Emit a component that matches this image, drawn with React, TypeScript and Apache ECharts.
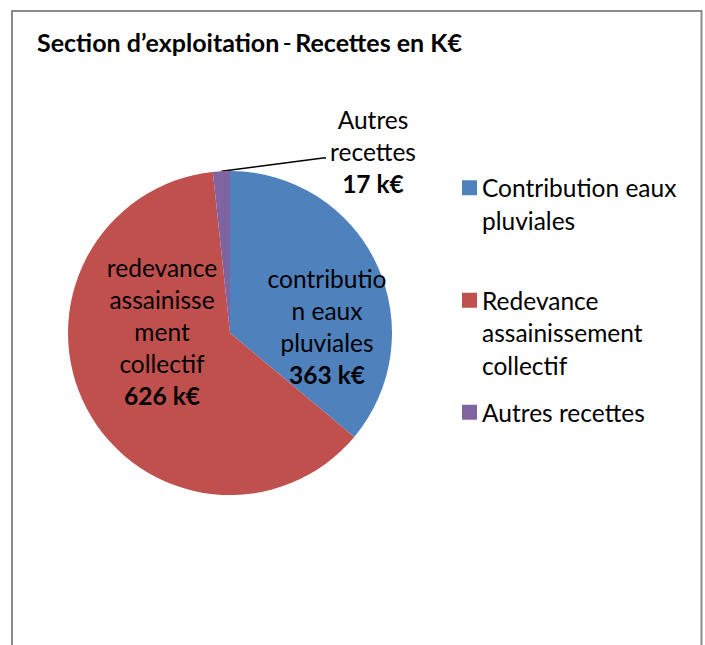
import React, { useEffect, useRef } from "react";
import * as echarts from "echarts";

const categories = ["Contribution eaux pluviales", "Redevance assainissement collectif", "Autres recettes"];
const legendNames = ["Contribution eaux\npluviales", "Redevance\nassainissement\ncollectif", "Autres recettes"];
const sliceLabels = ["contributio\nn eaux\npluviales", "redevance\nassainisse\nment\ncollectif", "Autres\nrecettes"];
const values = [363, 626, 17];
const colors = ["#4F81BD", "#C0504D", "#8064A2"];

const FONT = "Lato, 'Open Sans', sans-serif";
const FS = 24.5;

export default function App() {
  const ref = useRef<HTMLDivElement>(null);
  useEffect(() => {
    document.body.style.margin = "0";
    const chart = echarts.init(ref.current!, null, { renderer: "svg" });
    const cx = 230, cy = 333, r = 162;
    const total = values.reduce((a, b) => a + b, 0);
    const labelPos = [
      { x: 327, y: 326 },
      { x: 162, y: 331 },
      { x: 373, y: 151 },
    ];
    const legendTops = [139, 219, 396];
    const LH = 32.5;
    chart.setOption({
      animation: false,
      backgroundColor: "#ffffff",
      graphic: [
        {
          type: "rect",
          shape: { x: 12, y: 11, width: 689.5, height: 700 },
          style: { fill: "none", stroke: "#8c8c8c", lineWidth: 2 },
          z: 0,
        },
        {
          type: "text",
          left: 37,
          top: 29,
          style: {
            text: "{b|Section d’exploitation} {n|-} {b|Recettes en K€}",
            rich: {
              b: { fontFamily: FONT, fontSize: 25, fontWeight: "bold", fill: "#000" },
              n: { fontFamily: FONT, fontSize: 25, fill: "#000" },
            },
          },
        },
      ],
      legend: categories.map((c, i) => ({
        orient: "vertical",
        left: 462,
        top: legendTops[i],
        padding: 0,
        itemWidth: 15,
        itemHeight: 15,
        icon: "rect",
        data: [c],
        formatter: (name: string) => {
          const txt = legendNames[categories.indexOf(name)];
          const n = txt.split("\n").length;
          return "\n".repeat(n - 1) + txt;
        },
        textStyle: { fontFamily: FONT, fontSize: FS, color: "#000", lineHeight: LH },
      })),
      series: [
        {
          type: "pie",
          center: [cx, cy],
          radius: r,
          startAngle: 90,
          clockwise: true,
          color: colors,
          itemStyle: { borderWidth: 0 },
          label: {
            show: true,
            position: "inside",
            fontFamily: FONT,
            fontSize: FS,
            color: "#000",
            lineHeight: 32,
            align: "center",
            formatter: (p: any) => `{t|${sliceLabels[p.dataIndex]}}\n{v|${p.value} k€}`,
            rich: {
              t: { fontFamily: FONT, fontSize: FS, color: "#000", lineHeight: 32, align: "center" },
              v: { fontFamily: FONT, fontSize: FS, fontWeight: "bold", color: "#000", lineHeight: 32, align: "center" },
            },
          },
          labelLine: { show: false },
          labelLayout: (p: any) => {
            const i = p.dataIndex;
            const out: any = {
              x: labelPos[i].x,
              y: labelPos[i].y,
              align: "center",
              verticalAlign: "middle",
            };
            if (i === 2) {
              const before = values[0] + values[1];
              const mid = ((before + values[2] / 2) / total) * 2 * Math.PI;
              const sx = cx + r * Math.sin(mid);
              const sy = cy - r * Math.cos(mid);
              out.labelLinePoints = [[sx, sy], [323, 158], [326, 158]];
            }
            return out;
          },
          data: categories.map((c, i) => ({
            name: c,
            value: values[i],
            label: i === 2 ? { position: "outside" } : undefined,
            labelLine: i === 2 ? { show: true, lineStyle: { color: "#000", width: 1.5 } } : undefined,
          })),
        },
      ],
    });
    return () => chart.dispose();
  }, []);
  return <div ref={ref} style={{ width: 705, height: 645 }} />;
}
